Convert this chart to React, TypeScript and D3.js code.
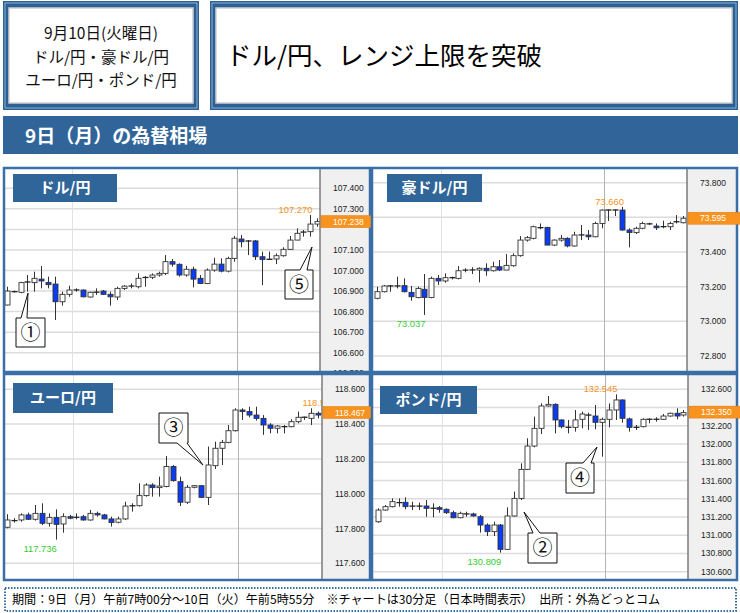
import * as React from 'react';
import * as d3 from 'd3';

// [open, high, low, close] per 30-minute bar
type Bar = [number, number, number, number];

const usdJpy: Bar[] = [
  [106.832, 106.921, 106.83, 106.9], [106.896, 106.902, 106.893, 106.898], [106.894, 106.945, 106.889, 106.941],
  [106.943, 106.978, 106.897, 106.945], [106.941, 106.994, 106.897, 106.962], [106.958, 107.022, 106.913, 106.949],
  [106.942, 106.97, 106.913, 106.931], [106.934, 106.97, 106.759, 106.848], [106.848, 106.897, 106.829, 106.884],
  [106.884, 106.926, 106.872, 106.905], [106.905, 106.913, 106.897, 106.906], [106.905, 106.908, 106.869, 106.872],
  [106.871, 106.897, 106.868, 106.894], [106.894, 106.913, 106.881, 106.895], [106.9, 106.905, 106.881, 106.884],
  [106.884, 106.897, 106.829, 106.872], [106.871, 106.921, 106.856, 106.913], [106.913, 106.929, 106.905, 106.924],
  [106.924, 106.937, 106.913, 106.925], [106.921, 106.986, 106.913, 106.962], [106.965, 106.973, 106.921, 106.967],
  [106.967, 106.986, 106.958, 106.978], [106.978, 106.994, 106.97, 106.986], [106.986, 107.075, 106.978, 107.043],
  [107.043, 107.056, 107.019, 107.031], [107.03, 107.035, 106.97, 106.978], [106.978, 107.022, 106.97, 107.006],
  [107.006, 107.019, 106.918, 106.958], [106.962, 106.978, 106.934, 106.937], [106.937, 107.01, 106.934, 107.002],
  [107.002, 107.062, 106.994, 107.031], [107.031, 107.059, 106.991, 106.997], [106.997, 107.067, 106.991, 107.059],
  [107.059, 107.168, 107.043, 107.157], [107.153, 107.173, 107.113, 107.14], [107.144, 107.148, 107.075, 107.143],
  [107.144, 107.148, 107.051, 107.067], [107.067, 107.092, 106.929, 107.054], [107.054, 107.092, 107.051, 107.055],
  [107.056, 107.083, 107.031, 107.072], [107.072, 107.113, 107.067, 107.103], [107.103, 107.168, 107.1, 107.148],
  [107.148, 107.205, 107.148, 107.181], [107.185, 107.197, 107.165, 107.189], [107.189, 107.27, 107.165, 107.226],
  [107.226, 107.254, 107.213, 107.238],
];

const audJpy: Bar[] = [
  [73.133, 73.2, 73.127, 73.171], [73.171, 73.21, 73.167, 73.204], [73.204, 73.21, 73.171, 73.205],
  [73.205, 73.258, 73.19, 73.204], [73.206, 73.248, 73.167, 73.171], [73.167, 73.204, 73.119, 73.142],
  [73.138, 73.2, 73.133, 73.19], [73.185, 73.273, 73.037, 73.138], [73.138, 73.258, 73.133, 73.248],
  [73.248, 73.267, 73.21, 73.233], [73.233, 73.277, 73.223, 73.252], [73.253, 73.258, 73.242, 73.251],
  [73.248, 73.319, 73.242, 73.292], [73.295, 73.306, 73.283, 73.296], [73.296, 73.312, 73.273, 73.297],
  [73.296, 73.312, 73.225, 73.306], [73.306, 73.335, 73.263, 73.292], [73.292, 73.344, 73.287, 73.315],
  [73.315, 73.354, 73.29, 73.296], [73.296, 73.388, 73.296, 73.323], [73.321, 73.392, 73.315, 73.379],
  [73.379, 73.492, 73.373, 73.469], [73.469, 73.492, 73.46, 73.483], [73.479, 73.552, 73.473, 73.546],
  [73.541, 73.565, 73.531, 73.54], [73.542, 73.546, 73.44, 73.44], [73.44, 73.473, 73.435, 73.469],
  [73.469, 73.498, 73.46, 73.479], [73.479, 73.485, 73.427, 73.435], [73.435, 73.517, 73.431, 73.498],
  [73.498, 73.556, 73.469, 73.499], [73.498, 73.527, 73.469, 73.488], [73.488, 73.575, 73.485, 73.565],
  [73.565, 73.646, 73.537, 73.642], [73.642, 73.646, 73.579, 73.643], [73.643, 73.646, 73.608, 73.642],
  [73.642, 73.66, 73.523, 73.527], [73.527, 73.537, 73.427, 73.513], [73.512, 73.546, 73.504, 73.537],
  [73.537, 73.575, 73.531, 73.565], [73.565, 73.569, 73.556, 73.56], [73.55, 73.565, 73.527, 73.54],
  [73.546, 73.581, 73.537, 73.547], [73.546, 73.575, 73.527, 73.565], [73.574, 73.613, 73.565, 73.575],
  [73.569, 73.608, 73.565, 73.595],
];

const eurJpy: Bar[] = [
  [117.807, 117.882, 117.801, 117.849], [117.845, 117.859, 117.834, 117.846], [117.849, 117.887, 117.839, 117.878],
  [117.878, 117.891, 117.849, 117.853], [117.853, 117.935, 117.845, 117.887], [117.887, 117.945, 117.82, 117.83],
  [117.83, 117.887, 117.811, 117.864], [117.864, 117.91, 117.736, 117.824], [117.826, 117.887, 117.776, 117.868],
  [117.868, 117.878, 117.853, 117.859], [117.861, 117.887, 117.853, 117.868], [117.868, 117.878, 117.845, 117.849],
  [117.849, 117.907, 117.845, 117.887], [117.887, 117.897, 117.868, 117.878], [117.878, 117.884, 117.853, 117.855],
  [117.855, 117.868, 117.811, 117.834], [117.836, 117.868, 117.83, 117.855], [117.855, 117.954, 117.849, 117.929],
  [117.93, 117.945, 117.897, 117.931], [117.931, 118.06, 117.926, 117.989], [117.989, 118.06, 117.983, 118.05],
  [118.05, 118.06, 117.983, 118.035], [118.035, 118.098, 117.983, 118.044], [118.041, 118.217, 118.037, 118.156],
  [118.156, 118.165, 118.069, 118.075], [118.069, 118.098, 117.929, 117.951], [117.951, 118.05, 117.941, 118.037],
  [118.037, 118.05, 118.031, 118.046], [118.046, 118.05, 117.975, 117.979], [117.979, 118.271, 117.935, 118.165],
  [118.161, 118.299, 118.142, 118.261], [118.261, 118.309, 118.165, 118.295], [118.295, 118.395, 118.29, 118.362],
  [118.362, 118.491, 118.357, 118.481], [118.481, 118.491, 118.424, 118.472], [118.472, 118.5, 118.439, 118.452],
  [118.452, 118.5, 118.42, 118.433], [118.433, 118.452, 118.338, 118.395], [118.395, 118.405, 118.347, 118.376],
  [118.376, 118.395, 118.347, 118.389], [118.385, 118.395, 118.347, 118.386], [118.385, 118.428, 118.382, 118.414],
  [118.414, 118.472, 118.405, 118.439], [118.439, 118.443, 118.424, 118.44], [118.433, 118.491, 118.395, 118.462],
  [118.462, 118.472, 118.433, 118.452],
];

const gbpJpy: Bar[] = [
  [131.148, 131.295, 131.137, 131.276], [131.276, 131.331, 131.269, 131.313], [131.313, 131.404, 131.306, 131.368],
  [131.357, 131.404, 131.313, 131.358], [131.361, 131.415, 131.284, 131.313], [131.32, 131.368, 131.276, 131.319],
  [131.32, 131.357, 131.276, 131.319], [131.32, 131.386, 131.203, 131.295], [131.295, 131.35, 131.196, 131.296],
  [131.302, 131.32, 131.247, 131.284], [131.284, 131.295, 131.233, 131.247], [131.247, 131.269, 131.185, 131.192],
  [131.192, 131.258, 131.185, 131.24], [131.233, 131.258, 131.203, 131.234], [131.233, 131.247, 131.203, 131.211],
  [131.203, 131.222, 131.028, 131.112], [131.112, 131.13, 130.991, 131.039], [131.039, 131.148, 130.991, 131.112],
  [131.112, 131.123, 130.809, 130.845], [130.845, 131.306, 130.838, 131.211], [131.211, 131.478, 131.203, 131.404],
  [131.404, 131.788, 131.386, 131.722], [131.722, 132.063, 131.715, 131.978], [131.978, 132.3, 131.964, 132.172],
  [132.172, 132.446, 132.11, 132.417], [132.417, 132.527, 132.41, 132.435], [132.435, 132.446, 132.117, 132.264],
  [132.264, 132.271, 132.172, 132.19], [132.183, 132.264, 132.117, 132.184], [132.183, 132.373, 132.136, 132.264],
  [132.271, 132.355, 132.172, 132.329], [132.318, 132.344, 132.154, 132.317], [132.307, 132.428, 132.161, 132.238],
  [132.238, 132.289, 131.861, 132.271], [132.271, 132.446, 132.183, 132.373], [132.373, 132.545, 132.264, 132.483],
  [132.483, 132.49, 132.234, 132.282], [132.275, 132.289, 132.136, 132.183], [132.183, 132.209, 132.154, 132.184],
  [132.19, 132.282, 132.183, 132.271], [132.271, 132.282, 132.227, 132.272], [132.271, 132.293, 132.245, 132.272],
  [132.271, 132.329, 132.264, 132.307], [132.307, 132.344, 132.3, 132.337], [132.337, 132.392, 132.271, 132.307],
  [132.318, 132.373, 132.3, 132.344],
];

const usdTicks = [106.5, 106.6, 106.7, 106.8, 106.9, 107.0, 107.1, 107.2, 107.3, 107.4];
const audTicks = [72.8, 73.0, 73.2, 73.4, 73.6, 73.8];
const eurTicks = [117.6, 117.8, 118.0, 118.2, 118.4, 118.6];
const gbpTicks = [130.6, 130.8, 131.0, 131.2, 131.4, 131.6, 131.8, 132.0, 132.2, 132.4, 132.6];

const lastUsd = 107.238;
const lastAud = 73.595;
const lastEur = 118.467;
const lastGbp = 132.35;

// bar index of the 12:00 line and of the date change line
const sessionLines = [9.45, 33.4];

const JP = '"Noto Sans CJK JP", "Noto Sans", sans-serif';
const NUM = '"Liberation Sans", Arial, sans-serif';
const BLUE = '#2f6598';
const ORANGE = '#f7931e';

type Callout = { label: string; x: number; y: number; w: number; h: number; side: 'top' | 'bottom'; b1: number; b2: number; ax: number; ay: number };

type PanelProps = {
  id: string;
  name: string;
  frame: { x: number; y: number; w: number; h: number };
  nameBox: { x: number; y: number; w: number; h: number };
  plotRight: number;
  xRange: [number, number];
  yDomain: [number, number];
  yRange: [number, number];
  grid: number[];
  ticks: number[];
  data: Bar[];
  last: number;
  showLow: boolean;
  hiAt?: { idx: number; anchor: 'start' | 'end'; dx: number };
  callouts: Callout[];
};

const calloutPath = (c: Callout) => {
  const { x, y, w, h } = c;
  if (c.side === 'top') {
    return `M${x},${y}L${c.b1},${y}L${c.ax},${c.ay}L${c.b2},${y}L${x + w},${y}L${x + w},${y + h}L${x},${y + h}Z`;
  }
  return `M${x},${y}L${x + w},${y}L${x + w},${y + h}L${c.b2},${y + h}L${c.ax},${c.ay}L${c.b1},${y + h}L${x},${y + h}Z`;
};

const Panel: React.FC<PanelProps> = (p) => {
  const { frame, plotRight, data } = p;
  const x = d3.scaleLinear().domain([0, data.length - 1]).range(p.xRange);
  const y = d3.scaleLinear().domain(p.yDomain).range(p.yRange);
  const fmt = d3.format('.3f');

  const hiIdx = d3.maxIndex(data, (d) => d[1]);
  const loIdx = d3.minIndex(data, (d) => d[2]);
  const hiVal = data[hiIdx][1];
  const loVal = data[loIdx][2];
  const hiPos = p.hiAt ?? { idx: hiIdx, anchor: 'end' as const, dx: 2 };

  const clipPlot = `plot-${p.id}`;
  const clipAll = `all-${p.id}`;
  const right = frame.x + frame.w;
  // the price flag hides the tick label underneath it
  const visibleTicks = p.ticks.filter((t) => Math.abs(y(t) - y(p.last)) > 9);

  return (
    <g>
      <defs>
        <clipPath id={clipPlot}>
          <rect x={frame.x} y={frame.y} width={plotRight - frame.x} height={frame.h} />
        </clipPath>
        <clipPath id={clipAll}>
          <rect x={frame.x} y={frame.y} width={frame.w} height={frame.h} />
        </clipPath>
      </defs>
      <rect x={frame.x} y={frame.y} width={frame.w} height={frame.h} fill="#fff" />
      <rect x={plotRight} y={frame.y} width={right - plotRight} height={frame.h} fill="#f0f0f0" />

      <g clipPath={`url(#${clipPlot})`}>
        {p.ticks.map((t) => (
          <line key={t} x1={frame.x} x2={plotRight} y1={y(t)} y2={y(t)} stroke="#dcdcdc" strokeWidth={1.5} />
        ))}
        {p.grid.map((g, i) => (
          <line key={i} x1={Math.round(x(g)) + 0.5} x2={Math.round(x(g)) + 0.5} y1={frame.y} y2={frame.y + frame.h}
            stroke={i === 0 ? '#e2e2e2' : '#b4b4b4'} strokeWidth={1} />
        ))}
        {data.map((d, i) => {
          const [o, h, l, c] = d;
          const cx = Math.round(x(i)) + 0.5;
          const top = y(Math.max(o, c));
          const bot = y(Math.min(o, c));
          const doji = bot - top < 1.5;
          return (
            <g key={i}>
              <line x1={cx} x2={cx} y1={y(h)} y2={y(l)} stroke="#333" strokeWidth={1} />
              {doji ? (
                <line x1={cx - 3} x2={cx + 3} y1={(top + bot) / 2} y2={(top + bot) / 2} stroke="#222" strokeWidth={1.3} />
              ) : (
                <rect x={cx - 2.5} y={top} width={5} height={bot - top} fill={c >= o ? '#fff' : '#0a3cf5'}
                  stroke="#333" strokeWidth={0.9} />
              )}
            </g>
          );
        })}
        <text x={x(hiPos.idx) + hiPos.dx} y={y(data[hiPos.idx][1]) - 2} textAnchor={hiPos.anchor}
          fontFamily={NUM} fontSize={9.4} fill={ORANGE}>{fmt(hiVal)}</text>
        {p.showLow && (
          <text x={x(loIdx) + 1} y={y(loVal) + 12} textAnchor="end" fontFamily={NUM} fontSize={9.4} fill="#33cc33">
            {fmt(loVal)}
          </text>
        )}
      </g>

      <g clipPath={`url(#${clipAll})`}>
        {visibleTicks.map((t) => (
          <text key={t} x={plotRight + 13} y={y(t) + 3} fontFamily={NUM} fontSize={8.5} fill="#222">{fmt(t)}</text>
        ))}
      </g>
      <line x1={plotRight} x2={plotRight} y1={frame.y} y2={frame.y + frame.h} stroke="#7a7a7a" strokeWidth={1.5} />

      <rect x={frame.x + 1} y={frame.y + 1} width={frame.w - 2} height={frame.h - 2} fill="none" stroke="#3a6ea6" strokeWidth={2.5} />

      <rect x={plotRight + 1} y={y(p.last) - 6} width={right - plotRight + 2} height={12} fill={ORANGE} stroke="#e07a10" strokeWidth={0.5} />
      <text x={plotRight + 13} y={y(p.last) + 3.2} fontFamily={NUM} fontSize={8.5} fill="#fff">{fmt(p.last)}</text>

      <rect x={p.nameBox.x} y={p.nameBox.y} width={p.nameBox.w} height={p.nameBox.h} fill={BLUE} />
      <text x={p.nameBox.x + p.nameBox.w / 2} y={p.nameBox.y + p.nameBox.h / 2 + 5} textAnchor="middle"
        fontFamily={JP} fontWeight="bold" fontSize={15} fill="#fff">{p.name}</text>

      {p.callouts.map((c) => (
        <g key={c.label}>
          <path d={calloutPath(c)} fill="#fff" stroke="#111" strokeWidth={1} />
          <text x={c.x + c.w / 2} y={c.y + c.h / 2 + 7} textAnchor="middle" fontFamily={JP} fontSize={20} fill="#111">
            {c.label}
          </text>
        </g>
      ))}
    </g>
  );
};

const HeaderBox: React.FC<{ x: number; y: number; w: number; h: number; children?: React.ReactNode }> = ({ x, y, w, h, children }) => (
  <g>
    <rect x={x} y={y} width={w} height={h} fill="#2c6196" />
    <rect x={x + 2} y={y + 2} width={w - 4} height={h - 4} fill="none" stroke="#8fb0d0" strokeWidth={1} />
    <rect x={x + 6} y={y + 7} width={w - 12} height={h - 14} fill="#fff" stroke="#cfcfcf" strokeWidth={1.5} />
    {children}
  </g>
);

export default function App() {
  return (
    <svg width={740} height={613} style={{ position: 'absolute', left: 0, top: 0, background: '#fff' }}>
      <HeaderBox x={3} y={1} w={196} h={109}>
        <text x={101} y={39} textAnchor="middle" fontFamily={JP} fontSize={15.5} fill="#111">9月10日(火曜日)</text>
        <text x={101} y={63} textAnchor="middle" fontFamily={JP} fontSize={15.5} fill="#111">ドル/円・豪ドル/円</text>
        <text x={101} y={86} textAnchor="middle" fontFamily={JP} fontSize={15.5} fill="#111">ユーロ/円・ポンド/円</text>
      </HeaderBox>
      <HeaderBox x={210} y={1} w={528} h={109}>
        <text x={226} y={65} fontFamily={JP} fontSize={25.5} fill="#000">ドル/円、レンジ上限を突破</text>
      </HeaderBox>

      <rect x={3} y={116} width={735} height={38} fill="#31659a" />
      <text x={25} y={143} fontFamily={JP} fontWeight="bold" fontSize={19} fill="#fff">9日（月）の為替相場</text>

      <Panel id="usd" name="ドル/円" data={usdJpy} ticks={usdTicks} last={lastUsd} grid={sessionLines}
        frame={{ x: 3, y: 167, w: 368, h: 206 }} nameBox={{ x: 13, y: 174, w: 104, h: 28 }} plotRight={320}
        xRange={[6.7, 317.3]} yDomain={[106.6, 107.4]} yRange={[352.7, 188.3]} showLow={false}
        callouts={[
          { label: '①', x: 16, y: 318, w: 29, h: 29, side: 'top', b1: 21, b2: 27, ax: 28, ay: 293 },
          { label: '⑤', x: 285, y: 270, w: 28, h: 29, side: 'top', b1: 300, b2: 307, ax: 312, ay: 247 },
        ]} />
      <Panel id="aud" name="豪ドル/円" data={audJpy} ticks={audTicks} last={lastAud} grid={sessionLines}
        frame={{ x: 371, y: 167, w: 367, h: 206 }} nameBox={{ x: 387, y: 174, w: 95, h: 28 }} plotRight={687}
        xRange={[376.7, 683.3]} yDomain={[72.8, 73.8]} yRange={[356, 182.7]} showLow={true}
        callouts={[]} />
      <Panel id="eur" name="ユーロ/円" data={eurJpy} ticks={eurTicks} last={lastEur} grid={sessionLines}
        frame={{ x: 3, y: 373, w: 368, h: 208 }} nameBox={{ x: 13, y: 383, w: 100, h: 30 }} plotRight={322}
        xRange={[7.3, 318.3]} yDomain={[117.6, 118.6]} yRange={[563.3, 389.3]} showLow={true}
        hiAt={{ idx: 44, anchor: 'start', dx: -9 }}
        callouts={[
          { label: '③', x: 159, y: 413, w: 29, h: 30, side: 'bottom', b1: 177, b2: 187, ax: 203, ay: 465 },
        ]} />
      <Panel id="gbp" name="ポンド/円" data={gbpJpy} ticks={gbpTicks} last={lastGbp} grid={sessionLines}
        frame={{ x: 371, y: 373, w: 367, h: 208 }} nameBox={{ x: 380, y: 386, w: 97, h: 28 }} plotRight={688}
        xRange={[378.3, 683.3]} yDomain={[130.6, 132.6]} yRange={[571.7, 389.3]} showLow={true}
        callouts={[
          { label: '②', x: 528, y: 533, w: 29, h: 30, side: 'top', b1: 533, b2: 540, ax: 524, ay: 512 },
          { label: '④', x: 566, y: 463, w: 28, h: 30, side: 'top', b1: 583, b2: 591, ax: 597, ay: 447 },
        ]} />

      <rect x={5} y={588} width={731} height={23} fill="#fff" stroke="#3a6ea6" strokeWidth={2} strokeDasharray="1.5 1.5" />
      <text x={12} y={604} fontFamily={JP} fontSize={12.1} fill="#000">
        期間：9日（月）午前7時00分～10日（火）午前5時55分　※チャートは30分足（日本時間表示）　出所：外為どっとコム
      </text>
    </svg>
  );
}
